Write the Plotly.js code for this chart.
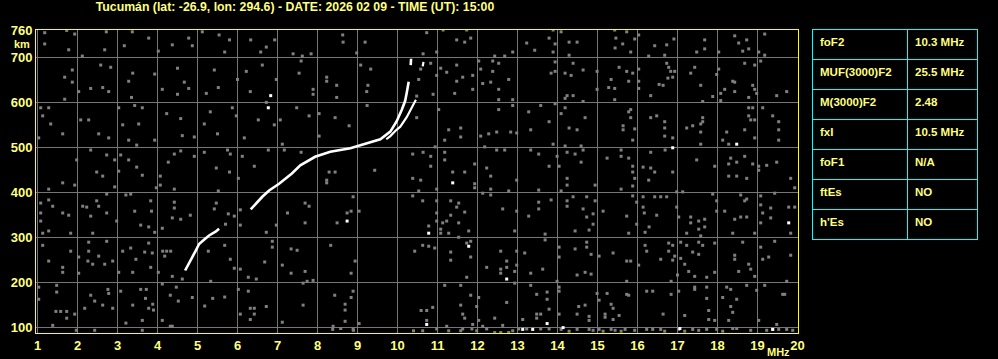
<!DOCTYPE html>
<html>
<head>
<meta charset="utf-8">
<script src="https://cdn.plot.ly/plotly-3.0.1.min.js"></script>
<style>html,body{margin:0;padding:0;background:#000;}#chart{width:998px;height:359px;}</style>
</head>
<body>
<div id="chart"></div>
<script>
// ---- Data ----
const titleText = "Tucumán (lat: -26.9, lon: 294.6) - DATE: 2026 02 09 - TIME (UT): 15:00";
const freqTicks = [1,2,3,4,5,6,7,8,9,10,11,12,13,14,15,16,17,18,19,20];
const heightTicks = [100,200,300,400,500,600,700,760];

// O-mode trace (MHz, km)
const oFreq = [4.69,4.79,4.87,4.96,5.04,5.17,5.29,5.46,5.54,null,6.33,6.46,6.62,6.79,7.04,7.36,7.57,7.94,8.32,8.82,9.23,9.57,9.82,9.98,10.11,10.19,10.23,10.28,null,10.33,10.34];
const oHeight = [226,241,256,271,285,295,304,313,319,null,362,375,390,404,419,442,460,479,490,498,509,518,535,558,584,603,621,646,null,683,697];
// X-mode trace
const xFreq = [9.72,9.82,9.95,10.07,10.23,10.36,10.46,null,10.63,10.65];
const xHeight = [518,525,537,546,567,589,606,null,680,690];

// background speckle (gray)
const noiseFreq = [
1.18,1.73,1.93,2.72,3.37,3.78,4.78,5.12,5.54,5.80,6.33,6.72,6.93,1.18,1.78,2.68,3.17,4.02,4.37,4.87,5.68,6.58,2.12,2.58,2.83,1.87,1.68,1.87,2.03,2.33,2.63,2.78,3.38,3.93,3.28,3.35,4.12,4.50,4.67,4.78,4.50,5.42,5.52,5.22,6.00,6.22,6.62,6.97,6.32,6.72,1.68,1.08,1.28,1.13,1.33,1.03,1.63,2.08,2.28,2.53,2.78,3.03,3.43,3.62,3.13,3.28,3.48,3.93,3.53,4.23,4.58,4.62,4.92,5.17,5.32,5.50,5.87,5.97,6.17,6.52,6.92,7.07,7.12,1.98,2.33,2.73,2.93,3.08,3.28,3.48,3.62,2.48,2.63,3.03,4.07,4.27,4.42,4.58,4.92,5.17,5.47,5.75,5.82,5.80,6.12,6.42,6.77,7.17,6.02,
8.63,8.64,9.19,10.73,11.14,11.48,11.68,11.83,11.73,13.23,13.43,12.88,12.43,12.68,7.39,7.62,7.84,8.98,10.64,10.98,7.59,7.54,8.23,8.23,8.48,7.89,7.89,8.48,9.08,9.33,9.26,9.23,10.83,11.08,11.48,11.23,10.98,11.63,11.48,11.88,11.88,11.43,12.03,12.38,12.53,12.38,12.08,12.13,12.33,12.78,12.53,12.53,12.88,10.89,10.58,10.53,10.48,7.48,7.79,8.04,8.44,8.79,9.24,10.48,11.03,11.28,11.58,11.58,11.18,12.08,12.28,12.48,12.83,12.98,13.28,13.58,12.88,12.53,13.33,8.04,7.59,8.29,8.44,8.23,9.43,10.38,10.64,10.83,10.94,11.18,11.18,10.83,10.38,10.58,11.38,11.68,11.93,12.18,12.23,12.33,12.48,12.68,13.33,13.53,12.98,
13.79,13.89,14.09,14.29,14.49,14.29,13.94,13.89,15.43,15.46,15.63,15.73,15.93,15.83,15.44,16.03,16.43,16.73,16.91,16.68,16.28,17.48,17.68,17.68,18.03,18.43,18.53,18.73,18.78,18.63,19.18,19.18,19.03,13.94,13.94,13.84,14.19,14.39,14.64,14.34,14.99,14.99,14.39,14.19,14.24,14.64,15.34,15.28,15.43,15.43,15.54,15.73,15.78,15.88,16.03,16.03,16.03,16.33,16.54,16.64,16.73,16.78,16.83,16.93,16.88,16.76,17.33,17.43,17.58,17.63,17.88,17.98,18.03,18.18,18.38,18.43,18.43,18.08,18.08,18.68,18.93,19.08,18.78,18.88,18.93,18.98,19.48,19.73,13.94,14.19,14.09,13.79,14.29,14.49,14.69,13.89,14.19,15.64,15.64,15.78,15.83,15.83,15.93,15.88,16.33,16.48,16.68,16.68,16.68,16.88,17.23,17.38,17.58,17.58,17.63,17.63,17.58,18.13,18.23,18.28,18.68,18.78,18.78,18.83,18.93,18.88,18.93,19.13,19.38,19.53,19.53,19.53,13.79,14.04,13.99,14.24,14.44,14.59,14.64,14.59,14.24,15.24,15.59,15.59,15.78,15.88,15.88,15.93,16.14,16.33,16.43,16.28,16.33,16.69,16.88,17.48,17.93,18.28,18.33,18.48,18.48,18.28,18.68,18.73,18.88,19.03,19.03,19.23,19.48,19.83,
1.28,1.63,1.93,2.93,3.97,4.07,4.42,5.52,1.08,1.28,1.38,1.08,1.63,1.78,1.08,1.28,1.13,1.83,2.13,2.23,2.33,2.38,2.48,2.53,2.73,2.73,2.98,3.21,3.33,3.43,3.58,3.78,3.83,3.85,3.93,4.42,4.42,4.37,4.58,4.82,4.12,5.47,5.42,5.77,5.92,5.70,6.07,6.07,6.72,6.97,7.25,1.13,1.28,1.63,1.83,1.63,2.03,2.03,2.28,2.28,2.26,2.38,2.53,2.68,2.73,2.88,3.03,3.13,3.33,3.38,3.46,3.68,3.78,3.87,3.83,4.02,4.13,4.23,4.33,4.18,4.37,4.62,5.27,5.33,5.68,5.82,5.92,6.07,6.27,6.47,6.68,6.87,6.87,7.12,1.03,1.03,1.48,1.48,1.46,1.58,1.73,1.73,1.93,1.38,2.18,2.33,2.43,2.63,2.76,2.78,3.08,2.88,3.21,3.38,3.58,3.72,3.70,3.78,3.88,3.90,3.62,4.12,4.12,4.32,4.47,4.52,4.32,4.87,5.18,5.38,5.68,6.02,6.27,6.32,6.42,6.72,6.07,6.32,6.42,7.12,1.97,2.43,3.62,4.37,
8.23,11.93,11.93,12.33,12.78,13.53,10.53,10.38,10.98,12.13,12.33,7.69,7.79,8.89,8.74,8.84,9.04,8.49,7.69,10.63,10.98,10.98,10.98,10.78,11.08,11.13,11.23,11.08,11.28,11.33,11.48,11.53,11.33,11.53,11.68,11.78,11.53,12.63,13.28,12.98,13.53,13.53,12.93,8.33,7.34,7.49,8.94,8.84,7.69,7.89,7.74,7.34,7.64,10.43,10.63,10.78,10.93,11.33,11.33,11.73,11.83,11.83,12.23,11.73,11.18,11.58,12.58,12.58,12.58,12.73,12.73,12.93,12.98,12.98,13.18,13.33,13.63,12.93,13.33,8.43,8.89,8.84,8.69,8.69,8.69,9.04,8.89,8.39,7.64,10.59,10.73,10.88,10.73,11.58,11.63,11.68,11.83,12.03,11.98,11.88,12.03,12.43,12.63,12.73,13.13,13.48,13.48,13.48,13.58,10.40,10.63,10.98,11.23,11.28,11.58,11.63,11.86,11.98,12.13,12.23,12.43,12.58,12.78,12.88,13.03,13.23,13.58,8.38,8.58,8.90,
14.24,14.94,15.59,15.88,14.09,13.84,14.24,14.39,14.73,14.94,14.24,14.64,14.73,14.89,14.89,14.79,14.44,13.69,15.14,15.73,15.88,15.98,16.14,16.43,16.58,16.73,16.14,16.17,16.48,15.98,16.29,16.19,15.78,16.98,17.13,16.98,17.03,17.33,17.53,17.68,17.33,17.53,17.68,17.58,17.23,17.88,17.98,17.98,18.18,18.58,18.73,18.68,18.43,18.58,18.73,18.38,19.08,19.08,19.33,19.13,19.33,19.43,19.78,19.93,19.93,19.83,18.93,19.08,13.69,14.04,14.04,14.44,14.73,14.73,14.84,15.04,15.39,15.73,15.83,14.69,14.84,14.49,13.99,16.19,16.23,16.58,16.78,16.88,16.78,16.93,16.88,17.08,17.08,17.23,17.18,17.28,17.38,17.53,17.53,17.63,17.93,17.93,17.73,17.43,17.00,16.03,15.73,18.63,18.43,18.43,18.78,18.83,18.53,18.93,19.08,19.13,19.28,19.43,19.83,19.73,19.18,13.74,13.74,14.04,14.04,14.04,13.79,14.53,14.49,14.79,14.79,14.69,14.99,15.24,15.04,15.34,15.19,15.19,15.39,15.39,15.54,15.73,15.78,16.23,16.38,16.64,16.84,16.84,17.03,17.18,17.43,17.43,17.73,17.73,17.78,17.78,17.93,18.13,18.23,18.33,18.38,18.48,18.33,18.28,18.73,18.98,19.03,19.63,19.68,19.48,13.79,14.09,14.29,14.49,14.79,14.89,15.04,15.14,15.34,15.44,15.59,15.69,15.93,16.23,16.38,16.58,16.68,17.03,17.18,17.38,17.53,17.73,17.98,18.13,18.38,18.48,18.83,19.23,19.38,19.53,19.73,19.88
];
const noiseHeight = [
755,760,752,757,757,743,743,757,750,739,739,723,739,730,717,717,726,714,728,726,712,712,703,683,678,672,656,645,624,631,633,624,665,663,647,611,629,676,645,631,618,672,633,620,651,669,683,651,624,600,607,588,588,570,552,521,530,561,561,530,521,588,593,588,550,516,505,516,552,575,564,526,523,552,579,530,588,570,521,561,550,561,507,472,494,483,472,483,472,456,438,445,436,447,436,467,485,492,480,489,454,494,485,445,480,458,494,494,431,
750,734,734,755,761,739,734,743,761,732,716,712,703,703,708,703,708,710,708,712,692,665,656,647,638,629,618,611,683,674,638,624,687,676,683,667,660,656,647,660,629,620,692,692,687,669,674,642,645,651,629,606,606,618,674,651,614,588,570,575,566,548,593,566,584,539,543,523,516,525,530,534,534,532,579,593,593,584,539,525,489,445,445,427,449,485,489,480,501,489,472,458,431,427,445,445,463,501,454,436,494,494,494,485,427,
743,761,757,734,734,705,730,712,761,743,730,757,741,712,721,750,726,728,741,705,703,712,739,719,712,748,732,739,719,714,752,705,712,690,669,665,665,687,672,660,669,629,615,609,615,602,651,633,631,606,678,669,647,665,674,647,631,615,640,638,687,678,669,669,656,654,665,678,638,602,613,662,674,629,647,645,624,620,604,687,683,692,611,638,629,620,615,624,597,588,575,557,543,539,566,507,503,548,539,579,584,566,541,516,566,570,557,543,525,521,543,548,552,534,566,557,507,516,534,507,539,588,570,561,561,588,521,588,570,557,539,516,458,458,480,489,485,467,494,503,431,476,494,480,476,458,445,431,456,454,445,427,489,494,445,472,458,463,476,467,436,436,480,431,463,458,449,460,467,431,
407,421,416,412,410,416,407,403,376,383,369,354,354,349,336,314,309,309,369,367,347,309,381,369,396,354,336,394,396,358,327,323,381,358,311,378,365,343,340,349,320,376,363,352,347,329,327,361,311,327,354,282,247,233,269,222,256,220,289,269,247,240,258,240,291,247,222,269,276,222,251,267,287,265,233,222,269,269,269,258,213,207,269,202,282,251,231,229,211,207,245,291,278,238,189,162,178,193,135,135,135,120,129,104,142,171,158,149,184,175,180,142,109,149,184,184,164,142,151,138,115,115,196,171,189,158,102,166,147,164,167,184,180,142,142,146,129,117,129,111,93,93,93,102,
421,419,410,407,403,405,403,392,407,398,394,376,369,390,354,358,358,332,332,381,381,354,336,325,318,332,336,309,309,381,367,376,349,332,356,314,300,363,347,358,378,363,314,282,274,271,247,220,224,204,202,220,198,269,282,280,276,267,249,287,291,256,233,211,193,193,269,229,220,247,233,224,238,269,265,220,229,198,193,171,180,166,151,138,113,108,95,102,149,137,137,144,115,149,129,120,171,166,146,106,115,120,104,155,117,173,129,120,129,92,92,96,102,92,92,96,96,92,102,96,88,88,88,92,96,96,96,95,97,93,
416,416,407,414,403,383,381,390,390,381,369,363,345,352,329,316,314,307,358,347,392,378,390,390,390,390,367,354,349,329,323,311,309,401,401,367,345,345,336,340,332,318,323,303,309,396,381,358,358,394,385,381,340,345,345,309,392,372,365,354,343,398,367,367,410,309,309,332,294,278,256,274,289,278,262,258,265,247,247,222,218,216,202,282,269,251,287,282,269,258,249,253,289,282,240,224,267,262,289,282,287,222,211,213,216,238,202,289,260,251,240,229,224,213,278,251,256,291,260,202,193,178,162,189,180,129,140,146,129,124,115,149,175,175,160,151,129,122,142,117,126,173,171,180,180,129,202,173,180,126,189,184,189,164,137,117,115,166,189,184,133,162,146,115,193,182,115,173,173,106,96,95,91,95,95,93,95,91,95,93,91,95,93,95,95,95,91,95,91,95,93,95,95,91,97,97,93,93,95,95,95,93
];
// bright speckles (white)
const whiteFreq = [6.83,6.77,18.48,16.88,11.38,8.74,10.78,11.78,12.73,10.73,13.13,13.38,19.78,14.14,17.06,19.38,13.74];
const whiteHeight = [615,588,507,499,421,336,309,280,207,106,95,95,332,99,97,95,108];

// parameter table
const paramNames = ["foF2","MUF(3000)F2","M(3000)F2","fxI","foF1","ftEs","h'Es"];
const paramValues = ["10.3 MHz","25.5 MHz","2.48","10.5 MHz","N/A","NO","NO"];

// ---- Style ----
const W = 998, H = 359;
const yellowText = '#ffff80';
const frame = '#ffff00';
const grid = '#767676';
const fontFam = 'Liberation Sans, Arial, sans-serif';
const tickFont = {family: fontFam, size: 13, color: yellowText, weight: 'bold'};
const cellFont = {family: fontFam, size: 11.5, color: yellowText, weight: 'bold'};
const noWrap = s => s.replace(/ /g, '\u00a0');

const traces = [
  {type:'scatter', mode:'markers', x: noiseFreq, y: noiseHeight,
   marker:{symbol:'square', size:3, color:'#808080', line:{width:0}}, hoverinfo:'skip'},
  {type:'scatter', mode:'markers', x: whiteFreq, y: whiteHeight,
   marker:{symbol:'square', size:3, color:'#ffffff', line:{width:0}}, hoverinfo:'skip'},
  {type:'scatter', mode:'lines', x: xFreq, y: xHeight, connectgaps:false,
   line:{color:'#ffffff', width:2.2}, hoverinfo:'skip'},
  {type:'scatter', mode:'lines', x: oFreq, y: oHeight, connectgaps:false,
   line:{color:'#ffffff', width:2.6}, hoverinfo:'skip'},
  {type:'table',
   domain:{x:[812/W, 978/W], y:[1-246/H, 1-29/H]},
   columnwidth:[95,70],
   header:{values:[[paramNames[0]],[noWrap(paramValues[0])]], height:30, align:'left',
     fill:{color:'#000000'}, line:{color:'#00ffff', width:1}, font: cellFont},
   cells:{values:[paramNames.slice(1), paramValues.slice(1).map(noWrap)], height:30, align:'left',
     fill:{color:'#000000'}, line:{color:'#00ffff', width:1}, font: cellFont}
  }
];

const layout = {
  width: W, height: H,
  margin:{l:0, r:0, t:0, b:0},
  paper_bgcolor:'#000000', plot_bgcolor:'#000000',
  showlegend:false, hovermode:false,
  title:{text: titleText, x: 295/W, xanchor:'center', xref:'container',
         y: 1-7/H, yanchor:'middle', yref:'container',
         font:{family:fontFam, size:12.3, color:yellowText, weight:'bold'}},
  xaxis:{domain:[36/W, 798/W], range:[0.9625, 20.0125], tickvals: freqTicks,
    ticktext: freqTicks.map(String),
    showgrid:true, gridcolor:grid, gridwidth:1, zeroline:false,
    showline:true, mirror:true, linecolor:frame, linewidth:1,
    ticks:'', tickfont: tickFont, automargin:false, fixedrange:true},
  yaxis:{domain:[1-333/H, 1-30/H], range:[87, 761], tickvals: heightTicks,
    ticktext: heightTicks.map(String),
    showgrid:true, gridcolor:grid, gridwidth:1, zeroline:false,
    showline:true, mirror:true, linecolor:frame, linewidth:1,
    ticks:'', tickfont: tickFont, automargin:false, fixedrange:true},
  annotations:[
    {text:'km', xref:'paper', yref:'paper', x:22/W, y:1-44/H, xanchor:'center', yanchor:'middle',
     showarrow:false, font:{family:fontFam, size:11, color:yellowText, weight:'bold'}},
    {text:'MHz', xref:'paper', yref:'paper', x:778/W, y:1-352/H, xanchor:'center', yanchor:'middle',
     showarrow:false, font:{family:fontFam, size:11, color:yellowText, weight:'bold'}}
  ]
};

Plotly.newPlot('chart', traces, layout, {staticPlot:true, displayModeBar:false});
</script>
</body>
</html>
